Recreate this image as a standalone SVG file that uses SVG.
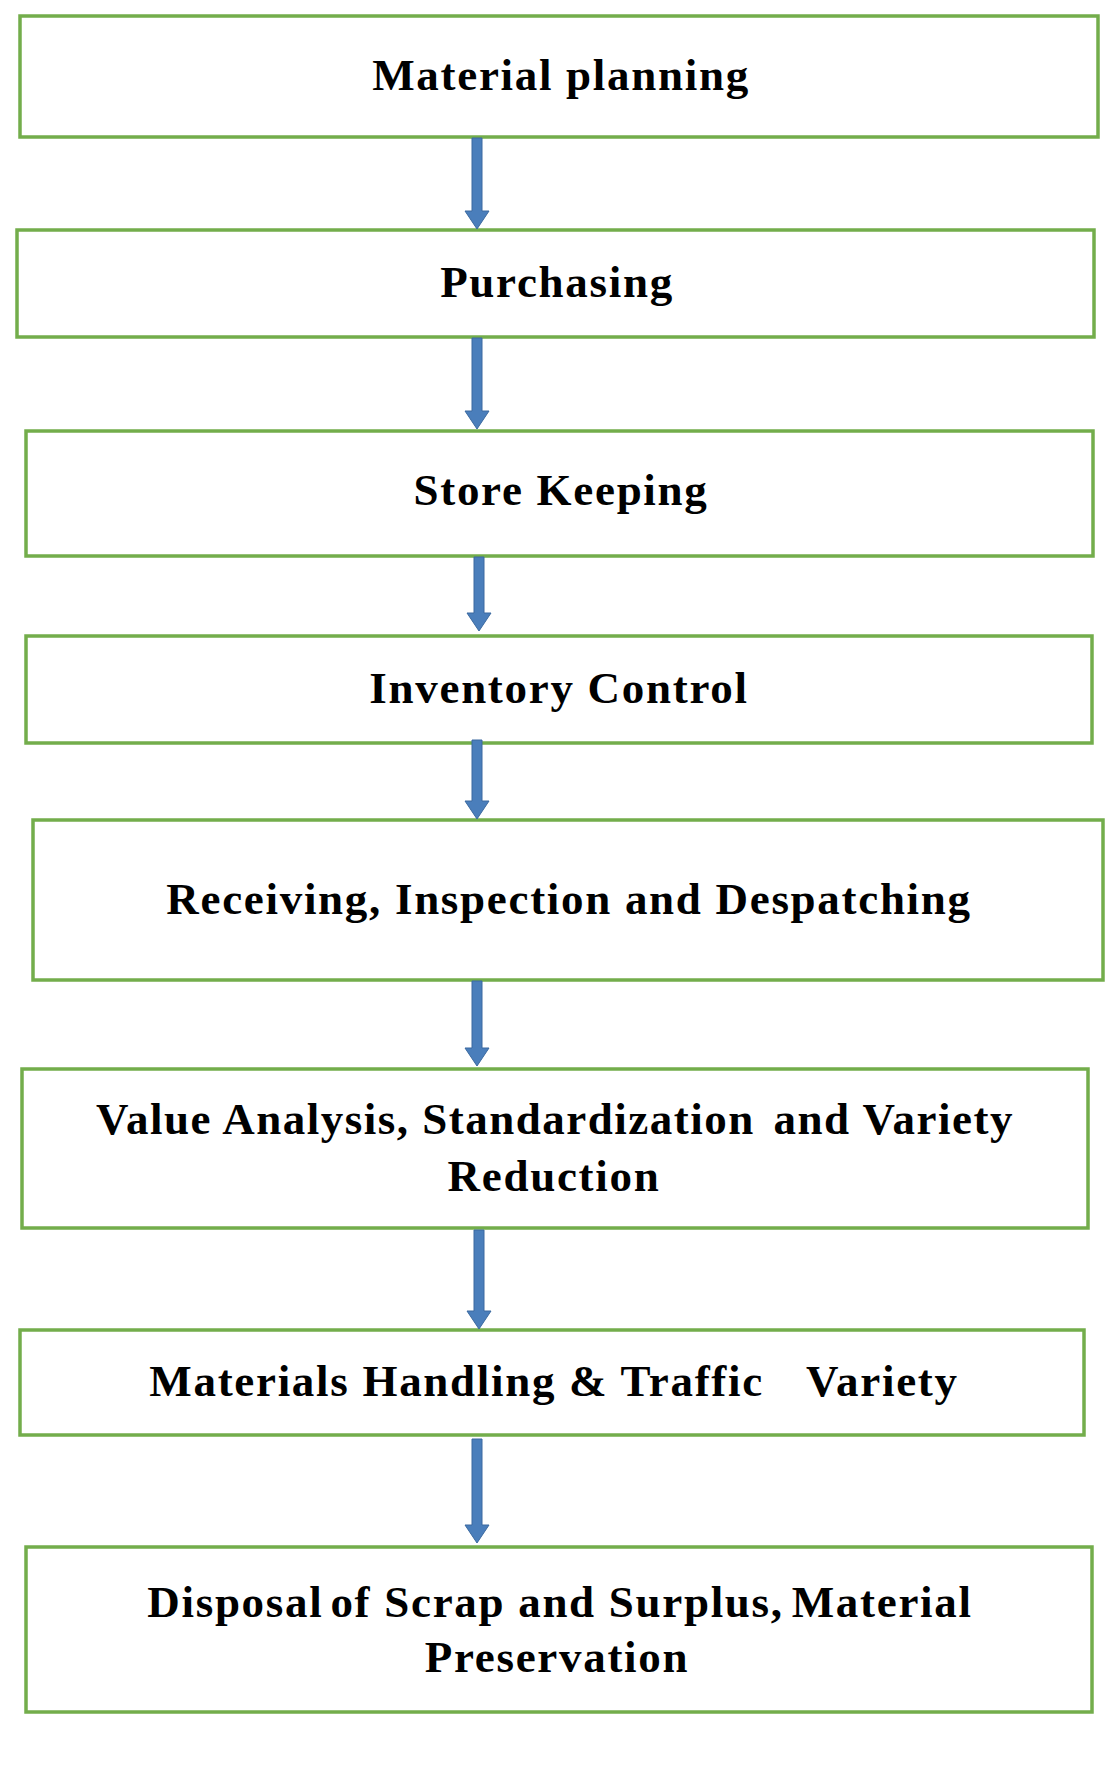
<svg xmlns="http://www.w3.org/2000/svg" width="1112" height="1786" viewBox="0 0 1112 1786">
<style>
.box{fill:#ffffff;stroke:#73ad4b;stroke-width:3.5}
.lbl{font-family:"Liberation Serif","Times New Roman",serif;font-weight:bold;font-size:45px;letter-spacing:1.7px;fill:#000;text-anchor:middle}
.tight{letter-spacing:1.5px}
.arr{fill:#4a7ebb;stroke:#3b69a0;stroke-width:1}
</style>
<rect width="1112" height="1786" fill="#ffffff"/>
<g id="n1"><rect class="box" x="20" y="16" width="1078" height="121"/><text class="lbl" x="561" y="90">Material planning</text></g>
<g id="n2"><rect class="box" x="17" y="230" width="1077" height="107"/><text class="lbl" x="557" y="297">Purchasing</text></g>
<g id="n3"><rect class="box" x="26" y="431" width="1067" height="125"/><text class="lbl" x="561" y="505">Store Keeping</text></g>
<g id="n4"><rect class="box" x="26" y="636" width="1066" height="107"/><text class="lbl" x="559" y="703">Inventory Control</text></g>
<g id="n5"><rect class="box" x="33" y="820" width="1070" height="160"/><text class="lbl" x="569" y="914">Receiving, Inspection and Despatching</text></g>
<g id="n6"><rect class="box" x="22" y="1069" width="1066" height="159"/><text class="lbl tight" x="555" y="1134">Value Analysis, Standardization <tspan dx="6">and Variety</tspan></text><text class="lbl" x="554" y="1191">Reduction</text></g>
<g id="n7"><rect class="box" x="20" y="1330" width="1064" height="105"/><text class="lbl" x="554" y="1396">Materials Handling &amp; Traffic <tspan dx="30">Variety</tspan></text></g>
<g id="n8"><rect class="box" x="26" y="1547" width="1066" height="165"/><text class="lbl" x="560" y="1617">Disposal <tspan dx="-6">of Scrap and Surplus,</tspan> <tspan dx="-5">Material</tspan></text><text class="lbl" x="557" y="1672">Preservation</text></g>
<g id="connectors">
<path class="arr" d="M472 138 H482 V211 H489 L477 229 L465 211 H472 Z"/>
<path class="arr" d="M472 338 H482 V411 H489 L477 429 L465 411 H472 Z"/>
<path class="arr" d="M474 557 H484 V613 H491 L479 631 L467 613 H474 Z"/>
<path class="arr" d="M472 740 H482 V801 H489 L477 819 L465 801 H472 Z"/>
<path class="arr" d="M472 981 H482 V1048 H489 L477 1066 L465 1048 H472 Z"/>
<path class="arr" d="M474 1230 H484 V1311 H491 L479 1329 L467 1311 H474 Z"/>
<path class="arr" d="M472 1439 H482 V1525 H489 L477 1543 L465 1525 H472 Z"/>
</g>
</svg>
